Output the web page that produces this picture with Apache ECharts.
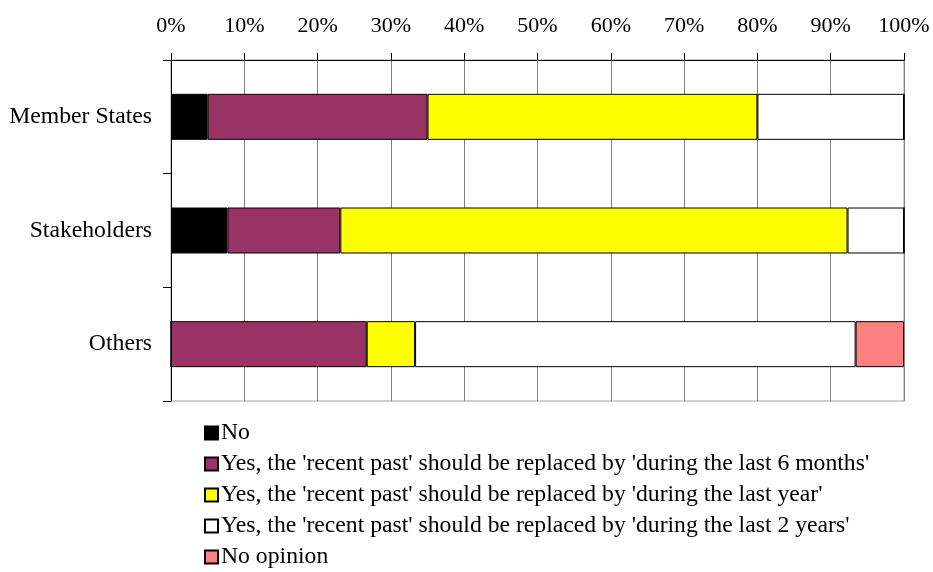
<!DOCTYPE html>
<html>
<head>
<meta charset="utf-8">
<script src="https://cdn.jsdelivr.net/npm/echarts@6/dist/echarts.min.js"></script>
<style>html,body{margin:0;padding:0;background:#fff;}#c{width:933px;height:572px;}</style>
</head>
<body>
<div id="c"></div>
<script>
const categories = ['Member States', 'Stakeholders', 'Others'];
const seriesNames = [
  'No',
  "Yes, the 'recent past' should be replaced by 'during the last 6 months'",
  "Yes, the 'recent past' should be replaced by 'during the last year'",
  "Yes, the 'recent past' should be replaced by 'during the last 2 years'",
  'No opinion'
];
const noVals = [5, 7.7, 0];
const sixMonthsVals = [30, 15.4, 26.7];
const lastYearVals = [45, 69.2, 6.6];
const twoYearsVals = [20, 7.7, 60.1];
const noOpinionVals = [0, 0, 6.6];
const colors = ['#000000', '#993366', '#FFFF00', '#FFFFFF', '#FF8080'];
const allVals = [noVals, sixMonthsVals, lastYearVals, twoYearsVals, noOpinionVals];

const font = 'Liberation Serif';
const chart = echarts.init(document.getElementById('c'));
chart.setOption({
  animation: false,
  textStyle: { fontFamily: font },
  grid: { left: 171, right: 29, top: 60, bottom: 171, show: true, borderColor: '#a0a0a0', borderWidth: 1, backgroundColor: 'transparent' },
  xAxis: {
    type: 'value', position: 'top', min: 0, max: 100, interval: 10,
    axisLabel: { formatter: '{value}%', fontSize: 22, color: '#000', fontFamily: font, margin: 23 },
    axisLine: { show: true, lineStyle: { color: '#000', width: 1 } },
    axisTick: { show: true, length: 7, lineStyle: { color: '#000' } },
    splitLine: { show: true, lineStyle: { color: '#808080', width: 1 } }
  },
  yAxis: {
    type: 'category', data: categories, inverse: true,
    axisLabel: { fontSize: 23.7, color: '#000', fontFamily: font, margin: 19, padding: [3, 0, 0, 0] },
    axisLine: { show: true, lineStyle: { color: '#000', width: 1 } },
    axisTick: { show: true, length: 8, lineStyle: { color: '#000' } },
    splitLine: { show: false }
  },
  legend: {
    orient: 'vertical', left: 199, top: 416, height: 160,
    itemWidth: 13, itemHeight: 13, itemGap: 7,
    icon: 'rect',
    textStyle: { fontSize: 23.7, lineHeight: 24, color: '#000', fontFamily: font, padding: [0, 0, 0, -2] },
    data: seriesNames
  },
  series: seriesNames.map((n, i) => ({
    name: n, type: 'bar', stack: 'total', barWidth: 46,
    data: allVals[i],
    itemStyle: { color: colors[i], borderColor: '#000', borderWidth: 1 },
    emphasis: { disabled: true }
  }))
});
</script>
</body>
</html>
